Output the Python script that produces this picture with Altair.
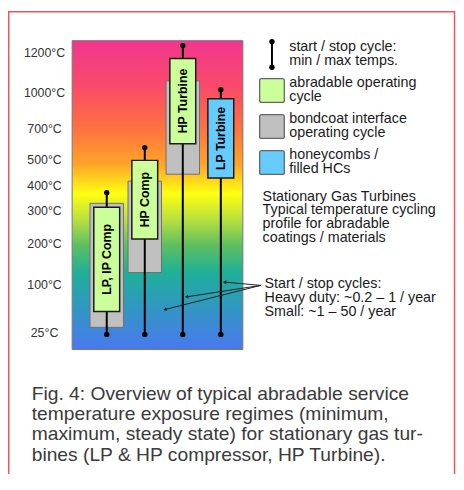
import math
import altair as alt
import numpy as np
import pandas as pd

# ---------------- data ----------------
categories = ["LP, IP Comp", "HP Comp", "HP Turbine", "LP Turbine"]
cycle_min = [23, 23, 23, 23]            # start / stop cycle: min temperature (°C)
cycle_max = [373, 581, 1240, 1015]      # start / stop cycle: max temperature (°C)
operating_low = [59, 215, 606, 431]     # abradable / honeycomb operating cycle
operating_high = [315, 500, 1175, 950]
operating_kind = ["abradable", "abradable", "abradable", "honeycomb"]
bondcoat_categories = ["LP, IP Comp", "HP Comp", "HP Turbine"]
bondcoat_low = [34, 131, 446]
bondcoat_high = [331, 419, 1060]

tick_values = [25, 100, 200, 300, 400, 500, 700, 1000, 1200]
# the figure's non-linear temperature axis: breakpoints (°C) and their rows (px)
axis_domain = [0, 25, 100, 200, 300, 400, 500, 700, 1000, 1200, 1265]
axis_range = [313, 296.3, 248, 206, 172.7, 147.3, 121.3, 89.3, 52.7, 13, 0]

legend_labels = [
    ["start / stop cycle:", "min / max temps."],
    ["abradable operating", "cycle"],
    ["bondcoat interface", "operating cycle"],
    ["honeycombs /", "filled HCs"],
]
legend_fills = ["#ccff99", "#c0c0c0", "#66ccff"]

info_text = ["Stationary Gas Turbines", "Typical temperature cycling",
             "profile for abradable", "coatings / materials"]
cycles_text = ["Start / stop cycles:", "Heavy duty: ~0.2 – 1 / year",
               "Small: ~1 – 50 / year"]
caption_text = ["Fig. 4: Overview of typical abradable service",
                "temperature exposure regimes (minimum,",
                "maximum, steady state) for stationary gas tur-",
                "bines (LP & HP compressor, HP Turbine)."]

# annotation arrows (x in column units, y in °C)
arrow_origin = (5.05, 100)
arrow_tip_x = [4.10, 3.10, 2.53]
arrow_tip_y = [108, 82, 62]

grad_offsets = [0, 0.15, 0.28, 0.40, 0.495, 0.58, 0.66, 0.75, 0.86, 1.0]
grad_colors = ["#f2368f", "#fa4a68", "#ff7040", "#ffa428", "#ffff10",
               "#b8e040", "#60c060", "#1eb098", "#3098c0", "#4a78f0"]

# ---------------- layout ----------------
W, H = 173, 313
x_domain = [0.09, 4.58]
FONT = "Liberation Sans"
TXT = 14.5
LH = 14

def y_px(t):
    return float(np.interp(t, axis_domain, axis_range))

def y_val(p):
    return float(np.interp(p, axis_range[::-1], axis_domain[::-1]))

def x_px(v):
    return (v - x_domain[0]) / (x_domain[1] - x_domain[0]) * W

idx = list(range(1, len(categories) + 1))
main = pd.DataFrame({
    "cat": categories, "idx": idx, "cmin": cycle_min, "cmax": cycle_max,
    "olo": operating_low, "ohi": operating_high, "kind": operating_kind,
})
main["mid"] = [y_val((y_px(a) + y_px(b)) / 2) for a, b in zip(operating_low, operating_high)]

bond = pd.DataFrame({
    "cat": bondcoat_categories,
    "idx": [categories.index(c) + 1 for c in bondcoat_categories],
    "blo": bondcoat_low, "bhi": bondcoat_high,
})

ticks = pd.DataFrame({"t": tick_values})

ox, oy = arrow_origin
arrows = pd.DataFrame({"x0": [ox] * 3, "y0": [oy] * 3, "x1": arrow_tip_x, "y1": arrow_tip_y})
angs = []
for tx, ty in zip(arrow_tip_x, arrow_tip_y):
    dx = x_px(tx) - x_px(ox)
    dy = y_px(ty) - y_px(oy)
    angs.append(math.degrees(math.atan2(dx, -dy)) % 360)
arrows["ang"] = angs

xs = alt.Scale(domain=x_domain, nice=False, zero=False)
ys = alt.Scale(domain=axis_domain, range=axis_range, nice=False, zero=False)

one = pd.DataFrame({"k": [0]})

background = alt.Chart(one).mark_rect(
    fill=alt.Gradient(
        gradient="linear", x1=0, y1=0, x2=0, y2=1,
        stops=[alt.GradientStop(offset=o, color=c) for o, c in zip(grad_offsets, grad_colors)],
    ),
    stroke="#777777", strokeWidth=1,
).encode(x=alt.value(0), x2=alt.value(W), y=alt.value(0), y2=alt.value(H))

tick_labels = alt.Chart(ticks).transform_calculate(lab="datum.t + '°C'").mark_text(
    font=FONT, fontSize=12.5, color="#333333", align="center", baseline="middle"
).encode(x=alt.value(-28), y=alt.Y("t:Q", scale=ys, axis=None), text="lab:N")

bond_boxes = alt.Chart(bond).mark_rect(
    fill="#c0c0c0", stroke="#707070", strokeWidth=1
).transform_calculate(xlo="datum.idx - 0.44", xhi="datum.idx + 0.44").encode(
    x=alt.X("xlo:Q", scale=xs, axis=None), x2="xhi:Q",
    y=alt.Y("blo:Q", scale=ys, axis=None), y2="bhi:Q",
)

whiskers = alt.Chart(main).mark_rule(color="black", strokeWidth=2).encode(
    x=alt.X("idx:Q", scale=xs, axis=None),
    y=alt.Y("cmin:Q", scale=ys, axis=None), y2="cmax:Q",
)

op_boxes = alt.Chart(main).mark_rect(stroke="#1a1a1a", strokeWidth=1.5).transform_calculate(
    xlo="datum.idx - 0.34", xhi="datum.idx + 0.34"
).encode(
    x=alt.X("xlo:Q", scale=xs, axis=None), x2="xhi:Q",
    y=alt.Y("olo:Q", scale=ys, axis=None), y2="ohi:Q",
    fill=alt.Fill("kind:N", scale=alt.Scale(domain=["abradable", "honeycomb"],
                                            range=["#ccff99", "#66ccff"]), legend=None),
)

dots = alt.Chart(main).transform_fold(["cmin", "cmax"], as_=["end", "temp"]).mark_circle(
    size=30, color="black", opacity=1
).encode(x=alt.X("idx:Q", scale=xs, axis=None), y=alt.Y("temp:Q", scale=ys, axis=None))

box_labels = alt.Chart(main).mark_text(
    angle=270, font=FONT, fontSize=12.5, fontWeight="bold", color="black",
    align="center", baseline="middle",
).encode(x=alt.X("idx:Q", scale=xs, axis=None), y=alt.Y("mid:Q", scale=ys, axis=None),
         text="cat:N")

arrow_lines = alt.Chart(arrows).mark_rule(color="#222222", strokeWidth=1).encode(
    x=alt.X("x0:Q", scale=xs, axis=None), y=alt.Y("y0:Q", scale=ys, axis=None),
    x2="x1:Q", y2="y1:Q"
)
arrow_heads = alt.Chart(arrows).mark_point(
    shape="triangle-up", filled=True, size=16, color="#222222", opacity=1
).encode(
    x=alt.X("x1:Q", scale=xs, axis=None), y=alt.Y("y1:Q", scale=ys, axis=None),
    angle=alt.Angle("ang:Q", scale=None),
)

layers = [background, tick_labels, bond_boxes, whiskers, op_boxes, dots, box_labels,
          arrow_lines, arrow_heads]


def text_block(lines, x, y_center, size=TXT, lh=LH, color="#1a1a1a"):
    """Multi-line text block, vertically centred on y_center (plot-relative px)."""
    first = y_center - (len(lines) - 1) * lh / 2
    return alt.Chart(one).mark_text(
        text=lines, font=FONT, fontSize=size, lineHeight=lh, color=color,
        align="left", baseline="middle"
    ).encode(x=alt.value(x), y=alt.value(first))


# ---------------- legend and texts (positions relative to the plot) ----------------
LX, LT, L0, LS = 202.5, 220, 14, 36.5
layers.append(alt.Chart(one).mark_rule(color="black", strokeWidth=2).encode(
    x=alt.value(LX), y=alt.value(L0 - 13), y2=alt.value(L0 + 13)))
for yy in (L0 - 13, L0 + 13):
    layers.append(alt.Chart(one).mark_circle(size=30, color="black", opacity=1).encode(
        x=alt.value(LX), y=alt.value(yy)))
for i, fill in enumerate(legend_fills):
    c = L0 + LS * (i + 1)
    layers.append(alt.Chart(one).mark_rect(
        fill=fill, stroke="#666666", strokeWidth=1.3, cornerRadius=2
    ).encode(x=alt.value(190), x2=alt.value(215), y=alt.value(c - 12), y2=alt.value(c + 12)))
for i, lines in enumerate(legend_labels):
    layers.append(text_block(lines, LT, L0 + LS * i - 0.5))

layers.append(text_block(info_text, 193, 179))
layers.append(text_block(cycles_text, 195, 261))

layers.append(alt.Chart(one).mark_text(
    text=caption_text, font=FONT, fontSize=19.5, lineHeight=20.5, color="#3a3a3a",
    align="left", baseline="alphabetic"
).encode(x=alt.value(-41), y=alt.value(364)))

layers.append(alt.Chart(one).mark_rect(
    fillOpacity=0, stroke="#e8585a", strokeWidth=1.5
).encode(x=alt.value(-64.25), x2=alt.value(387.5), y=alt.value(-29.25), y2=alt.value(460)))

chart = alt.layer(*layers).properties(
    width=W, height=H,
    autosize=alt.AutoSizeParams(type="none"),
    padding={"left": 65, "top": 30, "right": 216, "bottom": 123},
).configure_view(stroke=None)

chart.save("out.html", embed_options={"renderer": "svg", "actions": False})
